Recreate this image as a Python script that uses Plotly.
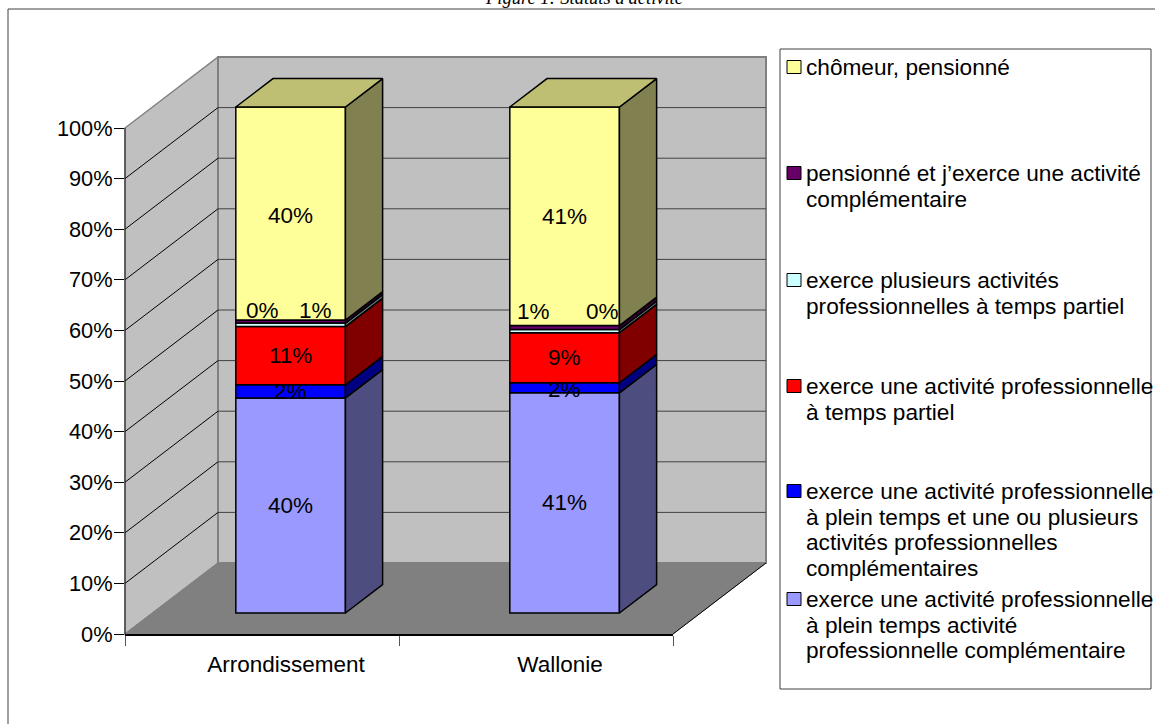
import plotly.graph_objects as go

W = 1155
H = 724

categories = ["Arrondissement", "Wallonie"]
positions = [0.5, 1.5]

# parts of each bar, bottom to top (share of the 100% column)
series_names = [
    "exerce une activité professionnelle<br>à plein temps activité<br>professionnelle complémentaire",
    "exerce une activité professionnelle<br>à plein temps et une ou plusieurs<br>activités professionnelles<br>complémentaires",
    "exerce une activité professionnelle<br>à temps partiel",
    "exerce plusieurs activités<br>professionnelles à temps partiel",
    "pensionné et j’exerce une activité<br>complémentaire",
    "chômeur, pensionné",
]
arrondissement = [42.5, 2.6, 11.5, 0.7, 0.6, 42.1]
wallonie = [43.5, 2.0, 9.9, 0.6, 0.8, 43.2]
arrondissement_labels = ["40%", "2%", "11%", "0%", "1%", "40%"]
wallonie_labels = ["41%", "2%", "9%", "1%", "0%", "41%"]

front_colors = ["#9999ff", "#0000ff", "#ff0000", "#ccffff", "#660066", "#ffff99"]
side_colors = ["#4d4d80", "#000080", "#800000", "#668080", "#330033", "#808050"]
top_color = "#bfbf73"

y_ticks = [0, 10, 20, 30, 40, 50, 60, 70, 80, 90, 100]

# nudges of the data labels that do not sit in the middle of their segment
arrondissement_nudge = [(0, 0), (0, 0), (0, 0), (-28, 14), (25, 11), (0, -2)]
wallonie_nudge = [(0, 0), (0, -2), (0, 0), (-31, 20), (38, 16), (0, 0)]

# pixel layout of the chart box
X0, Y0 = 125, 634
X_UNIT = 274
Y_UNIT = 5.06
Y_TOP = 112  # axis runs past 100 so the bar tops and sides are not clipped
# oblique depth of the box, in axis units
DEPTH_X = 93 / X_UNIT
DEPTH_Y = 71 / Y_UNIT
BAR_FRONT = 0.296
BAR_BACK = 0.696
BAR_WIDTH = 0.4
BAR_OFFSET = 0.004
FONT_SIZE = 22.5


def px(x):
    return x / W


def py(y):
    return 1 - y / H


def project(x, y, d):
    return x + d * DEPTH_X, y + d * DEPTH_Y


def paper(x, y, d):
    # axis position to paper fraction, walls sit outside the plot rectangle
    ax, ay = project(x, y, d)
    return px(X0 + ax * X_UNIT), py(Y0 - ay * Y_UNIT)


def wall(points, fill, line, width):
    path = "M " + " L ".join("%f,%f" % paper(*p) for p in points) + " Z"
    return dict(type="path", xref="paper", yref="paper", path=path, fillcolor=fill,
                line=dict(color=line, width=width), layer="below")


def segment(a, b, color):
    x0, y0 = paper(*a)
    x1, y1 = paper(*b)
    return dict(type="line", xref="paper", yref="paper", x0=x0, y0=y0, x1=x1, y1=y1,
                line=dict(color=color, width=1), layer="below")


def polygon(points, fill):
    pts = [project(*p) for p in points]
    pts.append(pts[0])
    return go.Scatter(x=[p[0] for p in pts], y=[p[1] for p in pts], mode="lines", fill="toself",
                      fillcolor=fill, line=dict(color="black", width=1.5), cliponaxis=False,
                      hoverinfo="skip", showlegend=False)


fig = go.Figure()

shapes = [
    dict(type="rect", xref="paper", yref="paper", x0=px(8), x1=1.05, y0=-0.05, y1=py(9),
         line=dict(color="#404040", width=1), layer="below"),
    dict(type="rect", xref="paper", yref="paper", x0=px(780), x1=px(1151), y0=py(689), y1=py(49),
         line=dict(color="#404040", width=1), layer="below"),
    wall([(0, 0, 0), (0, 100, 0), (0, 100, 1), (0, 0, 1)], "#c0c0c0", "#808080", 1.5),
    wall([(0, 0, 1), (0, 100, 1), (2, 100, 1), (2, 0, 1)], "#c0c0c0", "#808080", 2),
    wall([(0, 0, 0), (0, 0, 1), (2, 0, 1), (2, 0, 0)], "#808080", "#808080", 1),
]
for v in y_ticks[1:-1]:
    shapes.append(segment((0, v, 1), (2, v, 1), "#404040"))
    shapes.append(segment((0, v, 0), (0, v, 1), "black"))
shapes.append(segment((2, 0, 0), (2, 0, 1), "black"))
shapes.append(segment((0, 0, 0), (0, 100, 0), "#202020"))

# bars: front faces are real bars, sides and tops follow the same values
annotations = []
for pos, values, labels, nudges in [(positions[0], arrondissement, arrondissement_labels, arrondissement_nudge),
                                    (positions[1], wallonie, wallonie_labels, wallonie_nudge)]:
    bottom = 0
    centre = pos + BAR_OFFSET
    left = centre - BAR_WIDTH / 2
    right = centre + BAR_WIDTH / 2
    for i, v in enumerate(values):
        top = bottom + v
        fx, fbase = project(centre, bottom, BAR_FRONT)
        fig.add_trace(go.Bar(x=[fx], y=[v], base=[fbase], width=BAR_WIDTH, marker_color=front_colors[i],
                             marker_line=dict(color="black", width=1.5), cliponaxis=False,
                             hoverinfo="skip", showlegend=False))
        fig.add_trace(polygon([(right, bottom, BAR_FRONT), (right, bottom, BAR_BACK),
                               (right, top, BAR_BACK), (right, top, BAR_FRONT)], side_colors[i]))
        lx, ly = project(centre, bottom + v / 2, BAR_FRONT)
        annotations.append(dict(x=lx, y=ly, xref="x", yref="y", text=labels[i], showarrow=False,
                                xshift=nudges[i][0], yshift=nudges[i][1],
                                font=dict(size=FONT_SIZE, color="black")))
        bottom = top
    fig.add_trace(polygon([(left, bottom, BAR_FRONT), (right, bottom, BAR_FRONT),
                           (right, bottom, BAR_BACK), (left, bottom, BAR_BACK)], top_color))

# legend drawn by hand, entries are unevenly spaced in the source
legend_y = [599, 491, 386, 280, 173, 67]
for name, color, y in zip(series_names, front_colors, legend_y):
    shapes.append(dict(type="rect", xref="paper", yref="paper", x0=px(787), x1=px(801),
                       y0=py(y + 6.5), y1=py(y - 6.5), fillcolor=color, line=dict(color="black", width=1)))
    for n, line in enumerate(name.split("<br>")):
        annotations.append(dict(x=px(806), y=py(y + n * 25.6), xref="paper", yref="paper", text=line,
                                showarrow=False, xanchor="left", yanchor="middle", xshift=-2,
                                font=dict(size=22.65, color="black")))

annotations.append(dict(x=px(585), y=py(-2), xref="paper", yref="paper",
                        text="<i>Figure 1: Statuts d'activité</i>", showarrow=False,
                        xanchor="center", yanchor="middle",
                        font=dict(family="Liberation Serif", size=18.5, color="black")))

fig.update_layout(
    width=W, height=H, autosize=False,
    margin=dict(l=0, r=0, t=0, b=0),
    paper_bgcolor="white", plot_bgcolor="rgba(0,0,0,0)",
    font=dict(family="Liberation Sans", size=FONT_SIZE, color="black"),
    showlegend=False, barmode="overlay",
    annotations=annotations, shapes=shapes,
    xaxis=dict(domain=[px(X0), px(X0 + 2 * X_UNIT)], range=[0, 2], tickmode="array", tickvals=positions,
               ticktext=categories, ticks="outside", ticklen=10, tickcolor="rgba(0,0,0,0)",
               ticklabelstandoff=-1, ticklabelshift=24, showgrid=False, zeroline=False, showline=True,
               automargin=False, linecolor="black", linewidth=1.5,
               minor=dict(tickmode="array", tickvals=[0, 1, 2], ticks="outside", ticklen=10,
                          tickcolor="#555555", showgrid=False)),
    yaxis=dict(domain=[py(Y0), py(Y0 - Y_TOP * Y_UNIT)], range=[0, Y_TOP], tickmode="array", tickvals=y_ticks,
               ticktext=[f"{v}%" for v in y_ticks], ticks="outside", ticklen=10, tickcolor="black",
               ticklabelstandoff=-3, tickfont=dict(size=21.8),
               showgrid=False, zeroline=False, showline=False, automargin=False),
)

fig.write_html("out.html", post_script="document.body.style.margin = '0';",
               config={"displayModeBar": False})
